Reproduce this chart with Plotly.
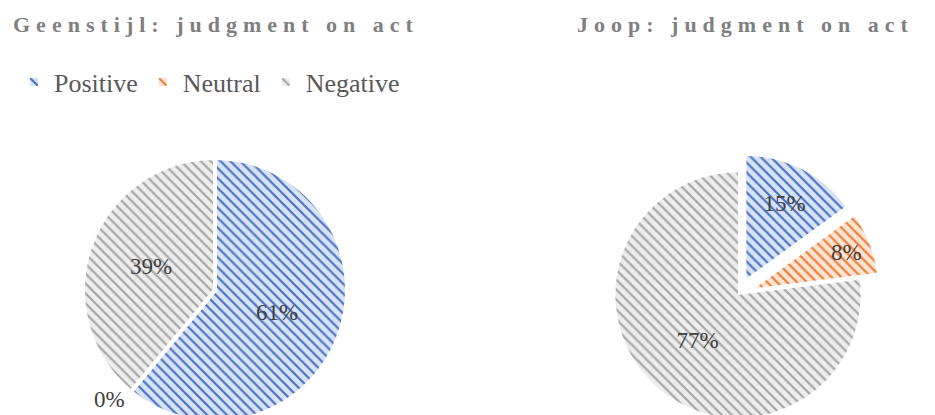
import plotly.graph_objects as go

labels = ["Positive", "Neutral", "Negative"]
geenstijl_values = [61, 0, 39]
joop_values = [15, 8, 77]
titles = ["Geenstijl: judgment on act", "Joop: judgment on act"]

fg_colors = ["#4472C4", "#ED7D31", "#A5A5A5"]
bg_colors = ["#D9E2F3", "#FBE4D5", "#EDEDED"]

FONT = "Liberation Serif"
H = 440  # page viewport is 415 tall; the pies run off the bottom like the original


def pie(values, domain, pull, legend, line_w, textpos):
    return go.Pie(
        labels=labels,
        values=values,
        sort=False,
        direction="clockwise",
        rotation=0,
        domain=domain,
        pull=pull,
        texttemplate="%{percent:.0%}",
        textposition=textpos,
        insidetextorientation="horizontal",
        textfont=dict(family=FONT, size=23, color="#404040"),
        outsidetextfont=dict(family=FONT, size=23, color="#404040"),
        marker=dict(
            colors=bg_colors,
            line=dict(color="white", width=line_w),
            pattern=dict(shape="\\", fgcolor=fg_colors, bgcolor=bg_colors,
                         size=7, solidity=0.3, fillmode="replace"),
        ),
        hoverinfo="label+percent",
        showlegend=True,
        legend=legend,
    )


fig = go.Figure()
fig.add_trace(pie(geenstijl_values,
                  dict(x=[83 / 935, 347 / 935], y=[18 / H, 282 / H]),
                  [0, 0, 0], "legend", 4, ["inside", "outside", "inside"]))
fig.add_trace(pie(joop_values,
                  dict(x=[597 / 935, 879 / 935], y=[4 / H, 286 / H]),
                  [0.15, 0.15, 0], "legend2", 0, "inside"))

legend_common = dict(
    orientation="h",
    font=dict(family=FONT, size=26, color="#595959"),
    yanchor="middle",
    y=1 - 82 / H,
    xanchor="left",
    bgcolor="rgba(0,0,0,0)",
)

title_font = dict(family=FONT, size=22, color="#808080", weight="bold")


def title_text(t):
    return '<span style="letter-spacing:6px">' + t + "</span>"


fig.update_layout(
    width=935,
    height=H,
    margin=dict(l=0, r=0, t=0, b=0),
    paper_bgcolor="white",
    plot_bgcolor="white",
    legend=dict(x=14 / 935, **legend_common),
    legend2=dict(x=543 / 935, **legend_common),
    annotations=[
        dict(text=title_text(titles[0]), x=216 / 935, y=1 - 24 / H, xref="paper", yref="paper",
             showarrow=False, xanchor="center", yanchor="middle", font=title_font),
        dict(text=title_text(titles[1]), x=745 / 935, y=1 - 24 / H, xref="paper", yref="paper",
             showarrow=False, xanchor="center", yanchor="middle", font=title_font),
    ],
)

fig.write_html(
    "out.html",
    config={"displayModeBar": False},
    post_script="document.body.style.margin='0';document.body.style.overflow='hidden';",
)
